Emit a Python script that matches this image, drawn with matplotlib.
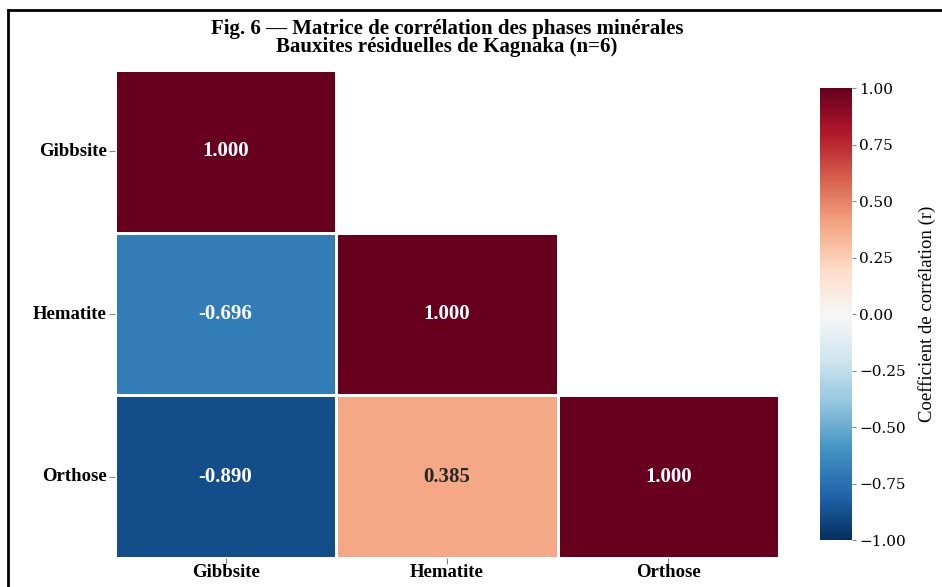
import numpy as np
import matplotlib
matplotlib.use("Agg")
import matplotlib.pyplot as plt
import seaborn as sns

minerals = ["Gibbsite", "Hematite", "Orthose"]
corr = np.array([
    [1.000, -0.696, -0.890],
    [-0.696, 1.000, 0.385],
    [-0.890, 0.385, 1.000],
])
cbar_ticks = [-1, -0.75, -0.5, -0.25, 0, 0.25, 0.5, 0.75, 1]

plt.rcParams['font.family'] = ['Liberation Serif', 'DejaVu Serif']

fig = plt.figure(figsize=(9.42, 5.87), dpi=100)
ax = fig.add_axes([0.122, 0.049, 0.705, 0.832])
cax = fig.add_axes([0.8705, 0.080, 0.034, 0.770])

# upper triangle hidden, diagonal kept
mask = np.triu(np.ones_like(corr, dtype=bool), k=1)

sns.heatmap(
    corr, mask=mask, ax=ax, cbar_ax=cax,
    cmap='RdBu_r', vmin=-1, vmax=1,
    annot=True, fmt='.3f',
    annot_kws={'fontsize': 15, 'fontweight': 'bold'},
    linewidths=2, linecolor='white',
    xticklabels=minerals, yticklabels=minerals,
    cbar_kws={'ticks': cbar_ticks},
)

ax.set_xticklabels(minerals, rotation=0, fontsize=13.5, fontweight='bold')
ax.set_yticklabels(minerals, rotation=0, fontsize=13.5, fontweight='bold')
ax.tick_params(axis='x', length=4, color='#888888', pad=0)
ax.tick_params(axis='y', length=4, color='#888888', pad=2)

cax.tick_params(length=3, color='#888888', pad=2)
cax.set_yticklabels([f"{t:.2f}".replace('-', '\u2212') for t in cbar_ticks],
                    fontsize=11, family='DejaVu Serif')
cax.set_ylabel('Coefficient de corrélation (r)', fontsize=13.5, labelpad=9)

fig.text(447/942, 1 - 38/587,
         "Fig. 6 — Matrice de corrélation des phases minérales\n"
         "Bauxites résiduelles de Kagnaka (n=6)",
         ha='center', va='center', fontsize=15, fontweight='bold', linespacing=0.85)

# frame lines on top and left
fig.add_artist(plt.Line2D([8/942, 8/942], [0, 1 - 10/587], color='black', lw=2,
                          transform=fig.transFigure))
fig.add_artist(plt.Line2D([8/942, 1], [1 - 10/587, 1 - 10/587], color='black', lw=2,
                          transform=fig.transFigure))

fig.savefig("out.png", dpi=100)
